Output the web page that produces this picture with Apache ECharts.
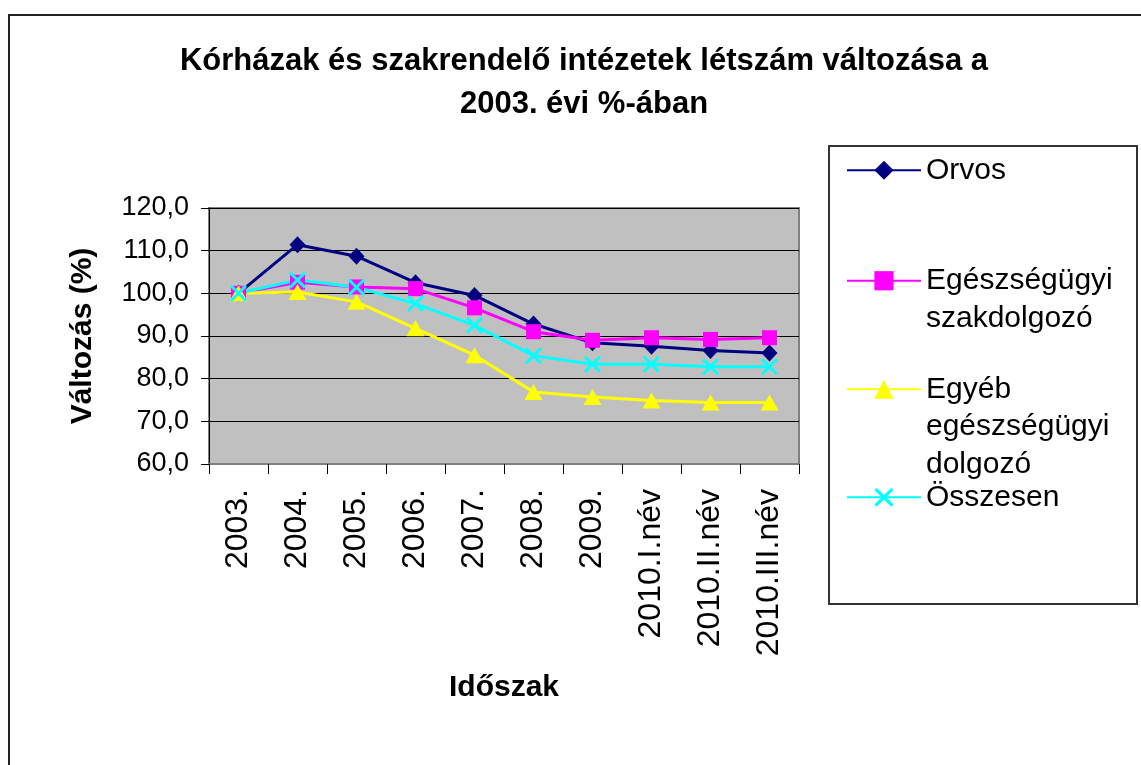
<!DOCTYPE html>
<html lang="hu">
<head>
    <meta charset="UTF-8">
    <title>Kórházak létszám változása</title>
    <script src="https://cdn.jsdelivr.net/npm/echarts@6/dist/echarts.min.js"></script>
    <style type="text/css">
        html, body {
            margin: 0;
            height: 100%;
            background: #fff;
        }
        #chart {
            width: 1141px;
            height: 765px;
        }
    </style>
</head>
<body>
    <div id="chart"></div>
    <script type="text/javascript">
        // időszakok
        var categories = ['2003.', '2004.', '2005.', '2006.', '2007.', '2008.', '2009.',
                          '2010.I.név', '2010.II.név', '2010.III.név'];

        // értékek a 2003. évi %-ában
        var orvos        = [100.0, 111.4, 108.7, 102.5, 99.5, 92.8, 88.4, 87.6, 86.6, 86.0];
        var szakdolgozo  = [100.0, 102.6, 101.5, 101.1, 96.6, 91.0, 89.0, 89.6, 89.2, 89.6];
        var egyebDolgozo = [100.0, 100.3, 98.0, 91.8, 85.5, 76.9, 75.7, 74.9, 74.4, 74.4];
        var osszesen     = [100.0, 103.1, 101.4, 97.6, 92.5, 85.4, 83.4, 83.4, 82.8, 82.8];

        var yTicks = [60, 70, 80, 90, 100, 110, 120];

        var font = 'Arial, "Liberation Sans", sans-serif';
        var xMark = 'path://M0,1.2 L1.2,0 L5,3.8 L8.8,0 L10,1.2 L6.2,5 L10,8.8 L8.8,10 L5,6.2 L1.2,10 L0,8.8 L3.8,5 Z';

        // legend szövegek: az első sor kerüljön a jel mellé
        var legendText = {
            'Orvos': 'Orvos',
            'Egészségügyi szakdolgozó': '\nEgészségügyi\nszakdolgozó',
            'Egyéb egészségügyi dolgozó': '\n\nEgyéb\negészségügyi\ndolgozó',
            'Összesen': 'Összesen'
        };

        function makeLegend(name, top) {
            return {
                data: [name],
                left: 846,
                top: top,
                padding: 0,
                orient: 'vertical',
                itemWidth: 74,
                itemHeight: 24,
                selectedMode: false,
                formatter: function (n) { return legendText[n]; },
                textStyle: {
                    fontFamily: font,
                    fontSize: 30,
                    lineHeight: 37.5,
                    color: '#000'
                }
            };
        }

        var chart = echarts.init(document.getElementById('chart'));

        var option = {
            backgroundColor: '#ffffff',
            animation: false,
            title: {
                text: 'Kórházak és szakrendelő intézetek létszám változása a\n2003. évi %-ában',
                left: 584,
                top: 40,
                padding: 0,
                textAlign: 'center',
                textStyle: {
                    fontFamily: font,
                    fontSize: 31,
                    fontWeight: 'bold',
                    lineHeight: 43,
                    color: '#000'
                }
            },
            legend: [
                makeLegend('Orvos', 151.5),
                makeLegend('Egészségügyi szakdolgozó', 224.5),
                makeLegend('Egyéb egészségügyi dolgozó', 295.5),
                makeLegend('Összesen', 478.5)
            ],
            grid: {
                left: 209,
                top: 208,
                width: 590,
                height: 256,
                show: true,
                backgroundColor: '#C0C0C0',
                borderColor: '#808080',
                borderWidth: 2
            },
            xAxis: {
                type: 'category',
                data: categories,
                boundaryGap: true,
                name: 'Időszak',
                nameLocation: 'middle',
                nameGap: 209,
                nameTextStyle: {
                    fontFamily: font,
                    fontSize: 30,
                    fontWeight: 'bold',
                    color: '#000'
                },
                axisLine: { lineStyle: { color: '#808080', width: 2 } },
                axisTick: { show: true, length: 10, lineStyle: { color: '#000' } },
                axisLabel: {
                    rotate: 90,
                    margin: 25,
                    fontFamily: font,
                    fontSize: 32,
                    color: '#000',
                    interval: 0
                },
                splitLine: { show: false }
            },
            yAxis: {
                type: 'value',
                min: yTicks[0],
                max: yTicks[yTicks.length - 1],
                interval: 10,
                name: 'Változás (%)',
                nameLocation: 'middle',
                nameGap: 111,
                nameTextStyle: {
                    fontFamily: font,
                    fontSize: 30,
                    fontWeight: 'bold',
                    color: '#000'
                },
                axisLine: { show: true, lineStyle: { color: '#000', width: 1 } },
                axisTick: { show: true, length: 8, lineStyle: { color: '#000' } },
                axisLabel: {
                    margin: 20,
                    fontFamily: font,
                    fontSize: 27,
                    color: '#000',
                    formatter: function (v) { return v.toFixed(1).replace('.', ','); }
                },
                splitLine: { show: true, lineStyle: { color: '#000', width: 1 } }
            },
            graphic: [
                {
                    type: 'rect',
                    shape: { x: 9, y: 15, width: 1200, height: 800 },
                    style: { fill: 'none', stroke: '#222', lineWidth: 2 },
                    silent: true,
                    z: -1
                },
                {
                    type: 'rect',
                    shape: { x: 829, y: 146, width: 308, height: 458 },
                    style: { fill: 'none', stroke: '#333', lineWidth: 2 },
                    silent: true
                }
            ],
            series: [
                {
                    name: 'Orvos',
                    type: 'line',
                    data: orvos,
                    symbol: 'diamond',
                    symbolSize: [16, 17],
                    lineStyle: { color: '#000080', width: 3 },
                    itemStyle: { color: '#000080' }
                },
                {
                    name: 'Egészségügyi szakdolgozó',
                    type: 'line',
                    data: szakdolgozo,
                    symbol: 'rect',
                    symbolSize: 15,
                    lineStyle: { color: '#FF00FF', width: 3 },
                    itemStyle: { color: '#FF00FF' }
                },
                {
                    name: 'Egyéb egészségügyi dolgozó',
                    type: 'line',
                    data: egyebDolgozo,
                    symbol: 'triangle',
                    symbolSize: [18, 16],
                    lineStyle: { color: '#FFFF00', width: 3 },
                    itemStyle: { color: '#FFFF00' }
                },
                {
                    name: 'Összesen',
                    type: 'line',
                    data: osszesen,
                    symbol: xMark,
                    symbolSize: 17,
                    lineStyle: { color: '#00FFFF', width: 3 },
                    itemStyle: { color: '#00FFFF' }
                }
            ]
        };

        chart.setOption(option);
    </script>
</body>
</html>
